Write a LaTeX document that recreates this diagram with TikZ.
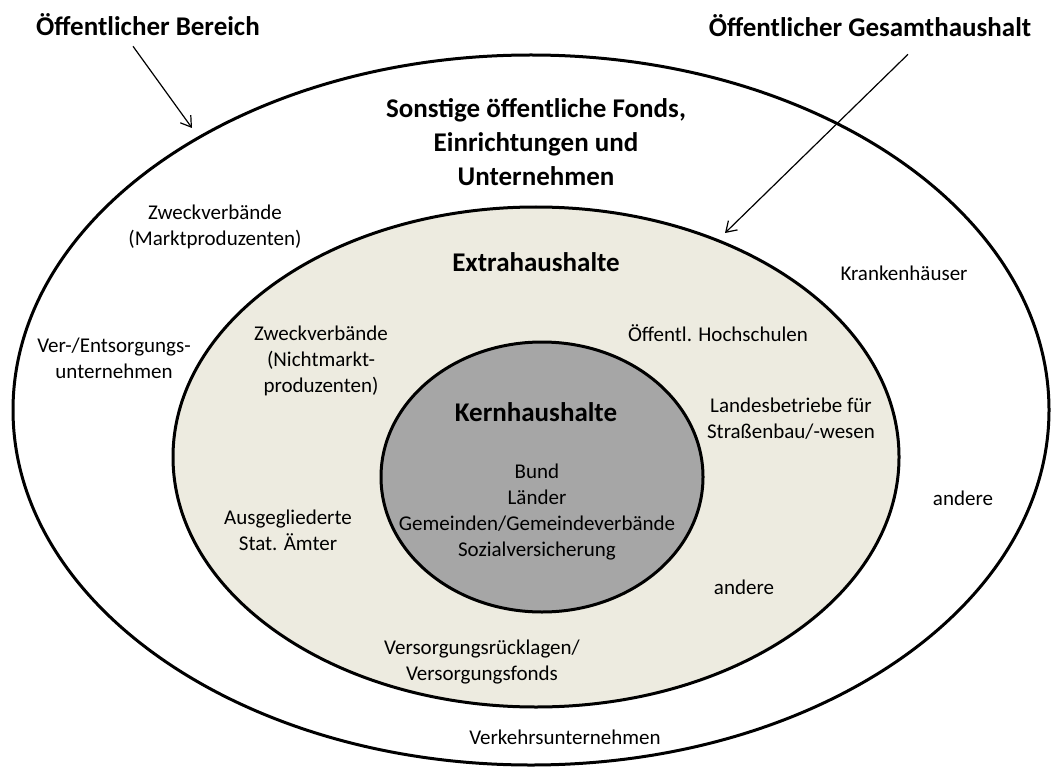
\documentclass[tikz,border=0pt]{standalone}
\usepackage{fontspec}
\setmainfont{Carlito}
\usepackage{xcolor}
\usetikzlibrary{arrows.meta}

\definecolor{extrabeige}{RGB}{237,235,224}
\definecolor{kerngrau}{RGB}{166,166,166}

\begin{document}
\begin{tikzpicture}[x=1pt,y=-1pt,
        ring/.style={draw=black,line width=3pt},
        entry/.style={inner sep=0pt,align=center,font=\fontsize{21}{26}\selectfont},
        titletext/.style={inner sep=0pt,align=center,font=\fontsize{27}{34}\selectfont\bfseries},
        pointer/.style={-{Straight Barb[length=10pt,width=13pt]},line width=1.2pt}]
        \useasboundingbox (0,0) rectangle (1051,767);

        % Oeffentlicher Bereich (outer ring)
        \draw[ring,fill=white] (531,410) ellipse [x radius=518, y radius=355];
        % Extrahaushalte
        \draw[ring,fill=extrabeige] (536,457) ellipse [x radius=363, y radius=250];
        % Kernhaushalte
        \draw[ring,fill=kerngrau] (542,477) ellipse [x radius=161, y radius=135];

        % Titles
        \node[titletext] (bereich) at (148,25) {Öffentlicher Bereich};
        \node[titletext] (gesamt) at (870,26) {Öffentlicher Gesamthaushalt};
        \node[titletext] (sonstige) at (536,142) {Sonstige öffentliche Fonds,\\Einrichtungen und\\Unternehmen};
        \node[titletext] (extra) at (536,262) {Extrahaushalte};
        \node[titletext] (kern) at (536,412) {Kernhaushalte};

        % Outer ring entries
        \node[entry] (zvmarkt) at (215,227) {Zweckverbände\\(Marktproduzenten)};
        \node[entry] (versorger) at (114,358) {Ver-/Entsorgungs-\\unternehmen};
        \node[entry] (kliniken) at (904,273) {Krankenhäuser};
        \node[entry] (andereaussen) at (963,498) {andere};
        \node[entry] (verkehr) at (565,737) {Verkehrsunternehmen};

        % Extrahaushalte entries
        \node[entry] (zvnicht) at (321,361) {Zweckverbände\\(Nichtmarkt-\\produzenten)};
        \node[entry] (hochschulen) at (718,333) {Öffentl. Hochschulen};
        \node[entry] (landesbetriebe) at (791,419) {Landesbetriebe für\\Straßenbau/-wesen};
        \node[entry] (statamt) at (288,530) {Ausgegliederte\\Stat. Ämter};
        \node[entry] (andereinnen) at (744,587) {andere};
        \node[entry] (ruecklagen) at (482,662) {Versorgungsrücklagen/\\Versorgungsfonds};

        % Kernhaushalte entries
        \node[entry] (ebenen) at (537,512) {Bund\\Länder\\Gemeinden/Gemeindeverbände\\Sozialversicherung};

        % Pointers to the rings
        \coordinate (bereichtip) at (192,128);
        \coordinate (gesamttip) at (725,233);
        \draw[pointer] ([xshift=-15pt,yshift=-10pt]bereich.south) -- (bereichtip);
        \draw[pointer] ([xshift=38pt,yshift=-17pt]gesamt.south) -- (gesamttip);

    \end{tikzpicture}
\end{document}
